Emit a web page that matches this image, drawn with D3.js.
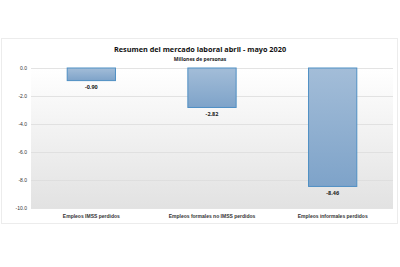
<!DOCTYPE html>
<html>
<head>
<meta charset="utf-8">
<script src="https://cdn.jsdelivr.net/npm/d3@7"></script>
<style>
  body { margin: 0; background: #fff; }
  svg { display: block; font-family: 'Open Sans', sans-serif; }
  .axis path { display: none; }
  .axis line { display: none; }
  .axis text { font-size: 5px; fill: #333; }
  .grid line { stroke: #dcdcdc; stroke-width: 0.8; }
  .grid path { display: none; }
</style>
</head>
<body>
<svg width="400" height="267"></svg>
<script>
// chart data
var categories = ['Empleos IMSS perdidos', 'Empleos formales no IMSS perdidos', 'Empleos informales perdidos'];
var values = [-0.90, -2.82, -8.46];
var yTicks = [0, -2, -4, -6, -8, -10];

var svg = d3.select('svg');
var plot = { l: 31, r: 393, t: 68, b: 208 };

// hyphen minus like the original spreadsheet chart
var locale = d3.formatLocale({ decimal: '.', thousands: ',', grouping: [3], currency: ['$', ''], minus: '-' });

var defs = svg.append('defs');
var bg = defs.append('linearGradient').attr('id', 'bgGrad')
    .attr('x1', 0).attr('y1', 0).attr('x2', 0).attr('y2', 1);
bg.append('stop').attr('offset', '0%').attr('stop-color', '#ffffff');
bg.append('stop').attr('offset', '100%').attr('stop-color', '#e2e2e2');

var barGrad = defs.append('linearGradient').attr('id', 'barGrad')
    .attr('x1', 0).attr('y1', 0).attr('x2', 0).attr('y2', 1);
barGrad.append('stop').attr('offset', '0%').attr('stop-color', '#a3bdd8');
barGrad.append('stop').attr('offset', '100%').attr('stop-color', '#7ea3c9');

// outer chart frame
svg.append('rect')
    .attr('x', 1.5).attr('y', 38.5)
    .attr('width', 396).attr('height', 185)
    .attr('fill', 'none')
    .attr('stroke', '#ececec')
    .attr('stroke-width', 1);

var xScale = d3.scaleBand()
    .domain(categories)
    .range([plot.l, plot.r])
    .paddingInner(0.6)
    .paddingOuter(0.3);

var yScale = d3.scaleLinear()
    .domain([0, -10])
    .range([plot.t, plot.b]);

// plot background
svg.append('rect')
    .attr('x', plot.l).attr('y', plot.t)
    .attr('width', plot.r - plot.l).attr('height', plot.b - plot.t)
    .attr('fill', 'url(#bgGrad)');

var yGrid = d3.axisLeft(yScale)
    .tickValues(yTicks)
    .tickSize(-(plot.r - plot.l))
    .tickFormat('');

svg.append('g')
    .attr('class', 'grid')
    .attr('transform', 'translate(' + plot.l + ',0)')
    .call(yGrid);

var yAxis = d3.axisLeft(yScale)
    .tickValues(yTicks)
    .tickSize(0)
    .tickPadding(4)
    .tickFormat(locale.format('.1f'));

svg.append('g')
    .attr('class', 'axis')
    .attr('transform', 'translate(' + plot.l + ',0)')
    .call(yAxis);

svg.selectAll('.bar')
    .data(values)
    .enter()
    .append('rect')
    .attr('class', 'bar')
    .attr('x', function (d, i) { return xScale(categories[i]); })
    .attr('y', yScale(0))
    .attr('width', xScale.bandwidth())
    .attr('height', function (d) { return yScale(d) - yScale(0); })
    .attr('fill', 'url(#barGrad)')
    .attr('stroke', '#4f8fc4')
    .attr('stroke-width', 1);

svg.selectAll('.value-label')
    .data(values)
    .enter()
    .append('text')
    .attr('class', 'value-label')
    .attr('x', function (d, i) { return xScale(categories[i]) + xScale.bandwidth() / 2; })
    .attr('y', function (d) { return yScale(d) + 8.5; })
    .attr('text-anchor', 'middle')
    .attr('font-size', 5.5)
    .attr('font-weight', 'bold')
    .attr('fill', '#222')
    .text(function (d) { return locale.format('.2f')(d); });

var xAxis = d3.axisBottom(xScale)
    .tickSize(0)
    .tickPadding(6);

svg.append('g')
    .attr('class', 'axis')
    .attr('transform', 'translate(0,' + plot.b + ')')
    .call(xAxis)
    .selectAll('text')
    .attr('font-weight', 'bold')
    .attr('font-size', 4.8);

svg.append('text')
    .attr('x', 200).attr('y', 51.5)
    .attr('text-anchor', 'middle')
    .attr('font-size', 7.3)
    .attr('font-weight', 'bold')
    .attr('fill', '#111')
    .text('Resumen del mercado laboral abril - mayo 2020');

svg.append('text')
    .attr('x', 200).attr('y', 60.5)
    .attr('text-anchor', 'middle')
    .attr('font-size', 5)
    .attr('font-weight', 'bold')
    .attr('fill', '#222')
    .text('Millones de personas');
</script>
</body>
</html>
